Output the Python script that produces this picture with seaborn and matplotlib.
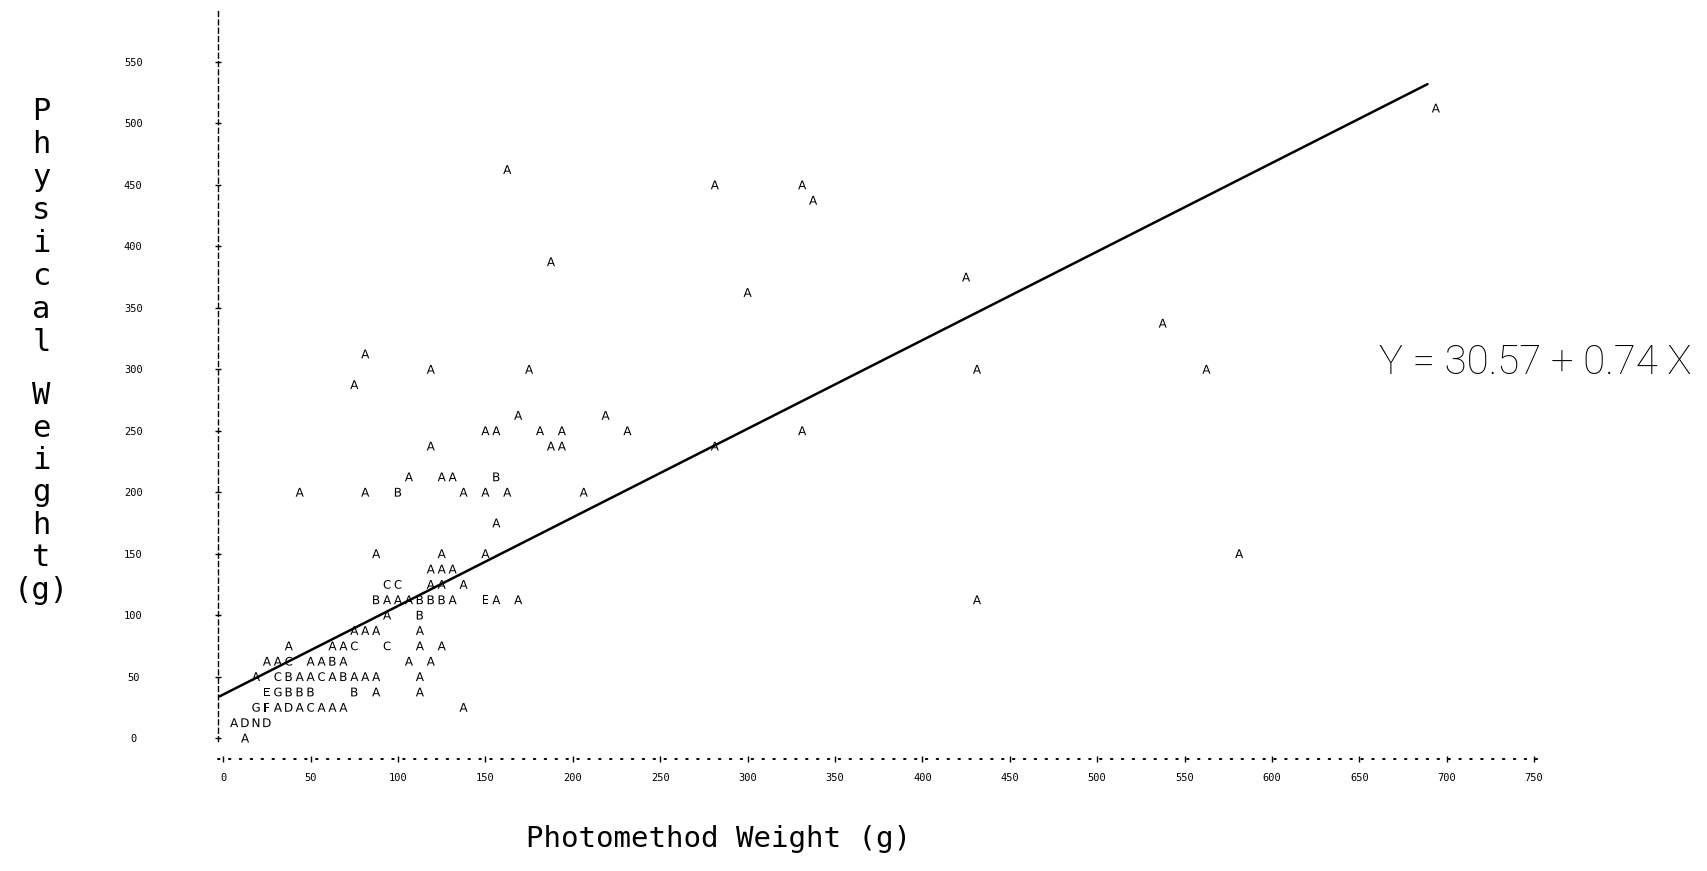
import matplotlib
matplotlib.use("Agg")
import pandas as pd
import seaborn as sns
import matplotlib.pyplot as plt

# line-printer plot: letter = number of obs at a print position (A=1, B=2, ... N=14)
phys_rows = [0, 12.5, 25, 37.5, 50, 62.5, 75, 87.5, 100, 112.5, 125, 137.5, 150, 175,
             200, 212.5, 237.5, 250, 262.5, 287.5, 300, 312.5, 337.5, 362.5, 375,
             387.5, 437.5, 450, 462.5, 512.5]

photo_rows = [
    [12.5],
    [6.25, 12.5, 18.75, 25],
    [18.75, 25, 31.25, 37.5, 43.75, 50, 56.25, 62.5, 68.75, 137.5],
    [25, 31.25, 37.5, 43.75, 50, 75, 87.5, 112.5],
    [18.75, 31.25, 37.5, 43.75, 50, 56.25, 62.5, 68.75, 75, 81.25, 87.5, 112.5],
    [25, 31.25, 37.5, 50, 56.25, 62.5, 68.75, 106.25, 118.75],
    [37.5, 62.5, 68.75, 75, 93.75, 112.5, 125],
    [75, 81.25, 87.5, 112.5],
    [93.75, 112.5],
    [87.5, 93.75, 100, 106.25, 112.5, 118.75, 125, 131.25, 150, 156.25, 168.75, 431.25],
    [93.75, 100, 118.75, 125, 137.5],
    [118.75, 125, 131.25],
    [87.5, 125, 150, 581.25],
    [156.25],
    [43.75, 81.25, 100, 137.5, 150, 162.5, 206.25],
    [106.25, 125, 131.25, 156.25],
    [118.75, 187.5, 193.75, 281.25],
    [150, 156.25, 181.25, 193.75, 231.25, 331.25],
    [168.75, 218.75],
    [75],
    [118.75, 175, 431.25, 562.5],
    [81.25],
    [537.5],
    [300],
    [425],
    [187.5],
    [337.5],
    [281.25, 331.25],
    [162.5],
    [693.75],
]

symbol_rows = ["A", "ADND", "GFADACAAAA", "EGBBBBAA", "ACBAACABAAAA", "AACAABAAA",
               "AAACCAA", "AAAA", "AB", "BAAABBBAEAAA", "CCAAA", "AAA", "AAAA", "A",
               "AABAAAA", "AAAB", "AAAA", "AAAAAA", "AA", "A", "AAAA", "A", "A", "A",
               "A", "A", "A", "AA", "A", "A"]

# hand-drawn regression line
line_x = [-2, 689]
line_y = [34, 532]
equation = "Y = 30.57 + 0.74 X"

x_ticks = list(range(0, 751, 50))
y_ticks = list(range(0, 551, 50))

records = []
for py, xs, syms in zip(phys_rows, photo_rows, symbol_rows):
    for px, s in zip(xs, syms):
        records.append({"photo": px, "physical": py, "sym": s})
df = pd.DataFrame(records)

sns.set_theme(style="white")
plt.rcParams["font.family"] = ["DejaVu Sans Mono", "DejaVu Sans"]
plt.rcParams["text.color"] = "black"
plt.rcParams["xtick.color"] = "black"
plt.rcParams["ytick.color"] = "black"

fig = plt.figure(figsize=(17.07, 8.71), dpi=100)
ax = fig.add_axes([0.1277, 0.1286, 0.7782, 0.8595])

markers = {c: "$\\mathsf{" + c + "}$" for c in sorted(df["sym"].unique())}
sns.scatterplot(data=df, x="photo", y="physical", style="sym", markers=markers,
                color="black", s=40, linewidth=0, legend=False, ax=ax)
sns.lineplot(x=line_x, y=line_y, color="black", linewidth=1.8, ax=ax)

ax.set_xlim(-3, 757)
ax.set_ylim(-17, 592)
ax.set_xticks(x_ticks)
ax.set_yticks(y_ticks)
ax.set_xticklabels([str(v) for v in x_ticks], fontsize=7.5)
ax.set_yticklabels([str(v) for v in y_ticks], fontsize=7.5)
for lab in ax.get_yticklabels():
    lab.set_horizontalalignment("center")
ax.tick_params(axis="both", which="major", bottom=True, left=True, direction="inout",
               length=4, width=1.0, color="black", labelcolor="black")
ax.tick_params(axis="y", pad=59)
ax.tick_params(axis="x", pad=8)
ax.set_xlabel("")
ax.set_ylabel("")

for side in ["top", "right"]:
    ax.spines[side].set_visible(False)
ax.spines["left"].set_linestyle((0, (3.5, 2.5)))
ax.spines["left"].set_linewidth(1.0)
ax.spines["left"].set_color("black")
ax.spines["left"].set_bounds(-2, 592)
ax.spines["bottom"].set_linestyle((0, (0.8, 4.8)))
ax.spines["bottom"].set_linewidth(1.4)
ax.spines["bottom"].set_capstyle("round")
ax.spines["bottom"].set_color("black")

fig.text(0.0243, 0.7394, "\n".join("Physical"), fontsize=22, ha="center", va="center",
         linespacing=1.17, color="black", family=["DejaVu Sans Mono"])
fig.text(0.0243, 0.434, "\n".join("Weight") + "\n(g)", fontsize=22, ha="center",
         va="center", linespacing=1.15, color="black", family=["DejaVu Sans Mono"])
fig.text(0.4209, 0.0363, "Photomethod Weight (g)", fontsize=21, ha="center",
         va="center", color="black", family=["DejaVu Sans Mono"])
fig.text(0.8993, 0.5838, equation, fontsize=29, ha="center", va="center",
         color="black", family=["Roboto", "DejaVu Sans"], fontweight="light")

fig.savefig("out.png", dpi=100, facecolor="white")
